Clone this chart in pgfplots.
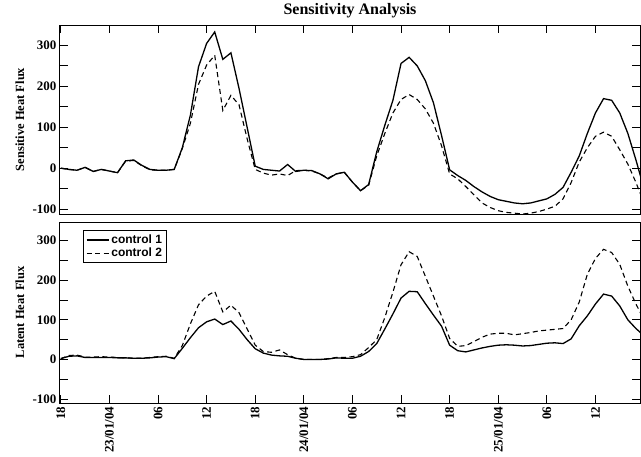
\documentclass[border=0pt]{standalone}
\usepackage{pgfplots}
\pgfplotsset{compat=1.18}
\usepackage{pgfplotstable}
\usepackage{fontspec}
\setmainfont{Liberation Serif}
\setsansfont{Liberation Sans}

\pgfplotstableread{
h s1 s2
0 0 0
1 -3 -3
2 -5 -5
3 2 2
4 -8 -8
5 -3 -3
6 -7 -7
7 -11 -11
8 18 17
9 20 19
10 7 6
11 -3 -4
12 -5 -5
13 -5 -5
14 -3 -3
15 50 48
16 130 110
17 248 205
18 305 252
19 333 276
20 266 141
21 282 178
22 195 155
23 100 72
24 5 -3
25 -3 -12
26 -5 -17
27 -7 -14
28 9 -18
29 -8 -6
30 -5 -5
31 -6 -7
32 -14 -14
33 -26 -24
34 -14 -14
35 -10 -10
36 -34 -34
37 -55 -55
38 -40 -42
39 40 30
40 105 85
41 166 135
42 256 168
43 271 180
44 250 168
45 214 145
46 160 110
47 80 55
48 -4 -14
49 -18 -26
50 -30 -45
51 -45 -65
52 -58 -85
53 -69 -96
54 -77 -104
55 -81 -108
56 -85 -110
57 -87 -112
58 -85 -110
59 -80 -106
60 -75 -100
61 -64 -93
62 -47 -75
63 -10 -35
64 30 15
65 85 50
66 135 78
67 170 88
68 166 78
69 135 45
70 85 10
71 20 -35
72 -50 -85
}\topdata

\pgfplotstableread{
h l1 l2
0 2 2
1 8 10
2 9 11
3 5 6
4 5 6
5 5 7
6 5 6
7 4 5
8 4 4
9 3 3
10 3 3
11 4 5
12 6 7
13 7 8
14 2 3
15 28 35
16 55 90
17 80 138
18 95 160
19 102 172
20 88 120
21 97 137
22 76 118
23 50 77
24 27 36
25 16 20
26 11 18
27 9 24
28 8 12
29 3 3
30 0 0
31 0 0
32 0 0
33 1 2
34 4 5
35 3 5
36 3 7
37 8 12
38 20 30
39 40 50
40 77 106
41 115 170
42 155 239
43 172 272
44 171 260
45 141 210
46 112 160
47 84 110
48 36 53
49 22 33
50 19 35
51 24 45
52 29 56
53 33 64
54 36 66
55 37 66
56 36 62
57 34 65
58 35 68
59 38 72
60 41 74
61 42 76
62 40 78
63 52 100
64 85 145
65 110 215
66 140 255
67 165 278
68 160 270
69 135 240
70 100 185
71 78 140
72 60 100
}\botdata

\begin{document}
\begin{tikzpicture}
\pgfplotsset{
 myax/.style={
  scale only axis, width=580pt,
  xmin=-0.1, xmax=71.5,
  xtick={0,6,...,66},
  ytick={-100,0,100,200,300},
  minor ytick={-50,50,150,250},
  tick align=inside,
  major tick length=8pt, minor tick length=8pt,
  axis line style={line width=1pt},
  every tick/.style={line width=0.9pt, black},
  tick label style={font=\fontsize{13}{15}\selectfont\bfseries},
  /pgf/number format/assume math mode=true,
  ylabel style={font=\fontsize{12.5}{14}\selectfont\bfseries, at={(axis description cs:-0.069,0.5)}, anchor=center},
 },
 s1/.style={black, line width=1.3pt},
 s2/.style={black, line width=1.1pt, dash pattern=on 5pt off 3.5pt},
}
\begin{axis}[myax, name=top, at={(0pt,0pt)}, anchor=north west,
  height=189pt, ymin=-112, ymax=350,
  xtick pos=right, xticklabels={},
  ylabel={Sensitive Heat Flux},
  title={Sensitivity Analysis},
  title style={font=\fontsize{16}{18}\selectfont\bfseries, inner sep=0pt, at={(0.5,1)}, anchor=south, yshift=1pt},
]
\addplot[s1] table[x=h,y=s1] {\topdata};
\addplot[s2] table[x=h,y=s2] {\topdata};
\end{axis}
\begin{axis}[myax, name=bot, at={(0pt,-197pt)}, anchor=north west,
  height=181pt, ymin=-110, ymax=347,
  xtick pos=left,
  xticklabels={18,23/01/04,06,12,18,24/01/04,06,12,18,25/01/04,06,12},
  xticklabel style={rotate=90, anchor=east},
  ylabel={Latent Heat Flux},
  legend style={at={(0.04,0.956)}, anchor=north west, draw=black, line width=0.8pt,
    font=\sffamily\bfseries\fontsize{12}{13}\selectfont, inner sep=2.5pt, row sep=-1pt},
  legend cell align=left,
  legend image code/.code={\draw[#1] (0pt,0pt) -- (22pt,0pt);},
]
\addplot[s1] table[x=h,y=l1] {\botdata};
\addlegendentry{control 1}
\addplot[s2] table[x=h,y=l2] {\botdata};
\addlegendentry{control 2}
\end{axis}
\pgfresetboundingbox
\path (-60pt,25pt) rectangle (581pt,-431pt);
\end{tikzpicture}
\end{document}
